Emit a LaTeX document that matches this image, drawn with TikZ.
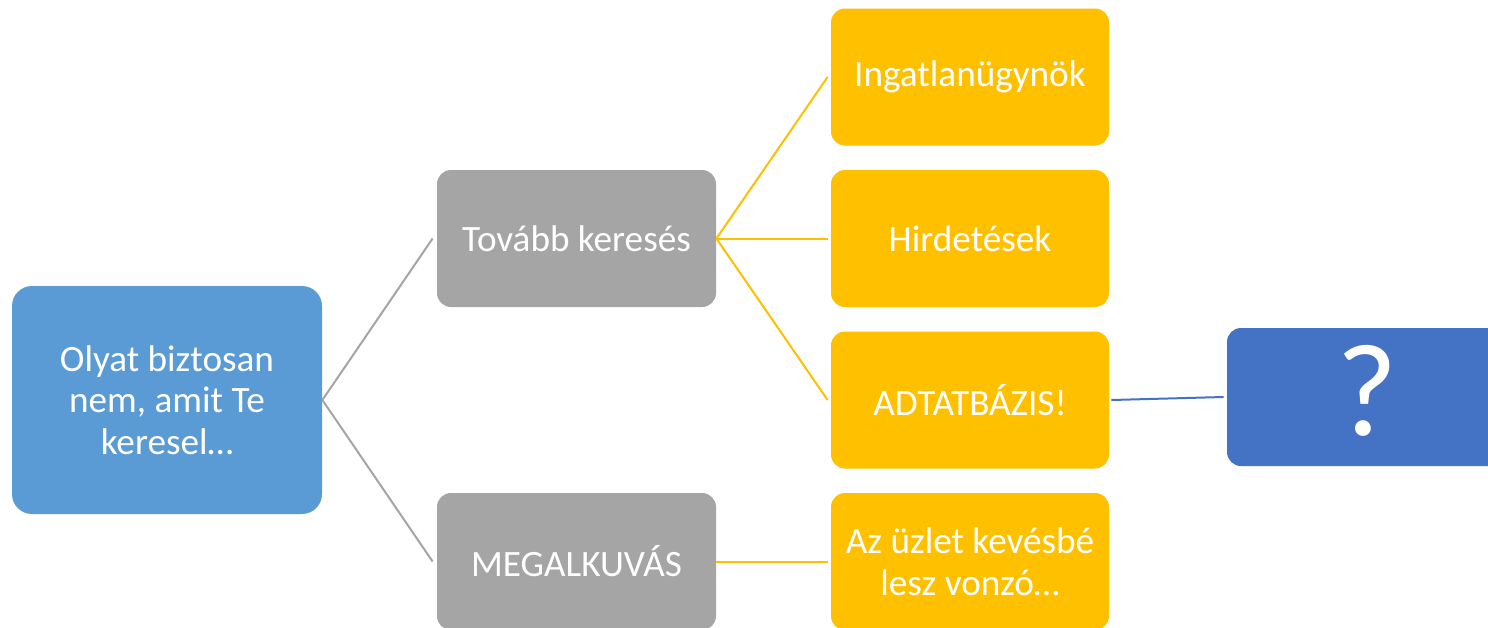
\documentclass[tikz,border=0pt]{standalone}
\usepackage{fontspec}
\setmainfont{Carlito}
\definecolor{cblue}{HTML}{5B9BD5}
\definecolor{cgray}{HTML}{A5A5A5}
\definecolor{cyellow}{HTML}{FFC000}
\definecolor{cdblue}{HTML}{4472C4}
\tikzset{
  box/.style={rectangle, rounded corners=7pt, inner sep=0pt, text=white, align=center,
    font=\fontsize{18.6}{20.8}\selectfont},
  leftbox/.style={box, fill=cblue, minimum width=155pt, minimum height=114pt, rounded corners=10pt},
  graybox/.style={box, fill=cgray, minimum width=139.5pt, minimum height=68.5pt},
  yelbox/.style={box, fill=cyellow, minimum width=139pt, minimum height=68.5pt},
  qbox/.style={box, fill=cdblue, minimum width=140pt, minimum height=69pt, font=\fontsize{66}{70}\selectfont},
  glink/.style={draw=cgray, line width=1pt},
  ylink/.style={draw=cyellow, line width=1pt},
  blink/.style={draw=cdblue, line width=1pt}
}
\begin{document}
\begin{tikzpicture}[x=0.5pt,y=-0.5pt]
\useasboundingbox (0,0) rectangle (1488,627);
\clip (0,0) rectangle (1488,627);
\fill[white] (0,0) rectangle (1488,627);
\node[leftbox] (L) at (167,400) {Olyat biztosan\\nem, amit Te\\keresel…};
\node[graybox] (T) at (576.5,238.5) {Tovább keresés};
\node[graybox] (M) at (576.5,561.5) {MEGALKUVÁS};
\node[yelbox] (Y1) at (970,77) {Ingatlanügynök};
\node[yelbox] (Y2) at (970,238.5) {Hirdetések};
\node[yelbox] (Y3) at (970,400) {ADTATBÁZIS!};
\node[yelbox] (Y4) at (970,561.5) {Az üzlet kevésbé\\lesz vonzó…};
\node[qbox] (Q) at (1367,397) {\raisebox{7pt}{?}};
\draw[glink] (L.east) -- ([xshift=-2pt]T.west);
\draw[glink] (L.east) -- ([xshift=-2pt]M.west);
\draw[ylink] (T.east) -- ([xshift=-1.5pt]Y1.west);
\draw[ylink] (T.east) -- ([xshift=-1.5pt]Y2.west);
\draw[ylink] (T.east) -- ([xshift=-1.5pt]Y3.west);
\draw[ylink] (M.east) -- ([xshift=-1.5pt]Y4.west);
\draw[blink] ([xshift=1pt]Y3.east) -- ([xshift=-1.5pt]Q.west);
\end{tikzpicture}
\end{document}
